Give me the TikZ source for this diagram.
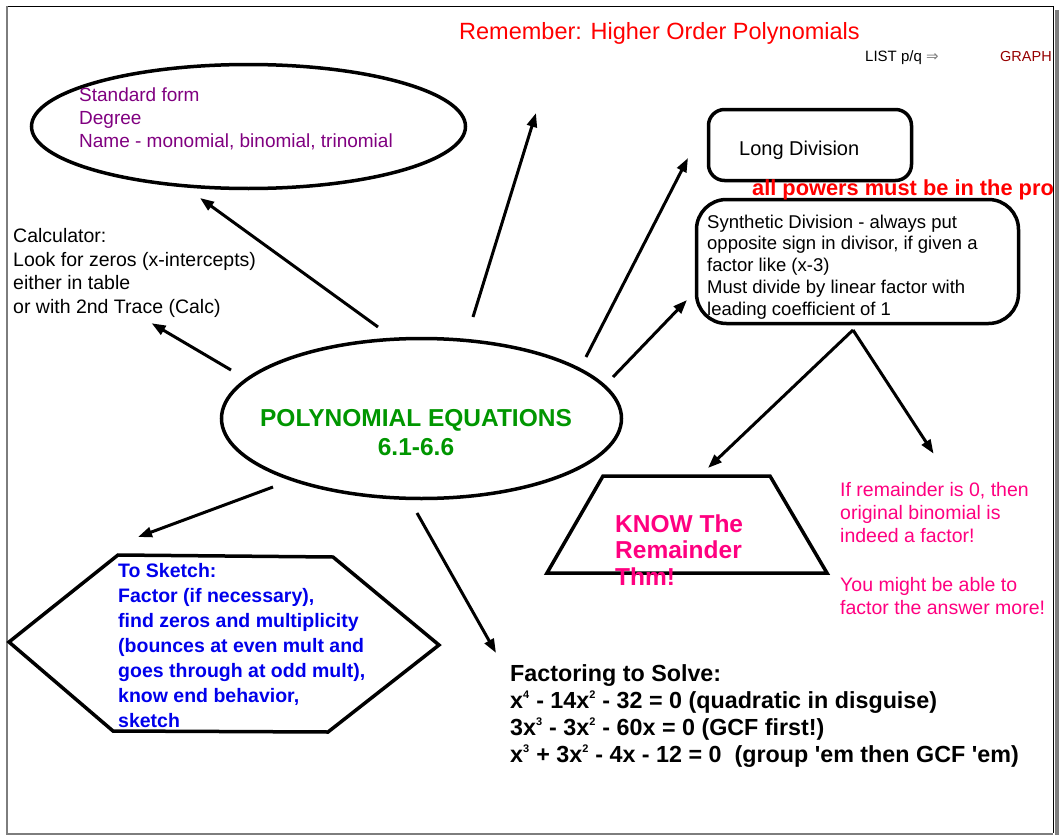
\documentclass[tikz,border=0pt]{standalone}
\usepackage{fontspec}
\setmainfont{Liberation Sans}
\newfontfamily\symbolfont{DejaVu Sans}
\usetikzlibrary{arrows.meta,shapes.geometric,calc,positioning}

\definecolor{titlered}{RGB}{255,0,0}
\definecolor{formpurple}{RGB}{128,0,128}
\definecolor{polygreen}{RGB}{0,150,0}
\definecolor{thmpink}{RGB}{255,0,128}
\definecolor{sketchblue}{RGB}{0,0,235}
\definecolor{graphred}{RGB}{150,0,0}
\definecolor{frameshadow}{RGB}{125,125,125}

\newcommand\fsz[2]{\fontsize{#1}{#2}\selectfont}

\tikzset{
  shape line/.style = {draw, line width=3.5pt, inner sep=0pt},
  bubble/.style     = {shape line, ellipse},
  roundbox/.style   = {shape line, rectangle},
  note/.style       = {inner sep=0pt, align=left, anchor=base west},
  link/.style       = {line width=3pt, -{Triangle[length=14pt,width=10pt]}}
}

\begin{document}
\begin{tikzpicture}[x=1pt,y=-1pt]
\useasboundingbox (0,0) rectangle (1061,835);

% page frame with its shadow
\draw[line width=1pt] (7,6) -- (1053,6) -- (1053,833);
\draw[frameshadow, line width=1.5pt] (7,6) -- (7,834) -- (1053,834);
\draw[frameshadow, line width=4pt] (1057,10) -- (1057,835);

% the shapes
\node[bubble, minimum width=434, minimum height=124] (form) at (248.5,126.5) {};
\node[bubble, minimum width=400, minimum height=160] (poly) at (421.5,418.5) {};
\node[roundbox, rounded corners=16pt, minimum width=203, minimum height=71] (longdiv) at (810,145) {};
\node[roundbox, rounded corners=30pt, minimum width=322, minimum height=124] (synth) at (857.5,261.5) {};
\coordinate (thmc) at (687,524.5);
\draw[line width=3.5pt] ($(thmc)+(-84,-48.5)$) -- ($(thmc)+(83,-48.5)$)
  -- ($(thmc)+(140,48.5)$) -- ($(thmc)+(-140,48.5)$) -- cycle;
\coordinate (hexc) at (224,643.5);
\draw[line width=3.5pt] ($(hexc)+(-215,-1.5)$) -- ($(hexc)+(-106,-88.5)$)
  -- ($(hexc)+(109,-86.5)$) -- ($(hexc)+(215,1.5)$)
  -- ($(hexc)+(104,88.5)$) -- ($(hexc)+(-111,87.5)$) -- cycle;

% the texts (a multi-line note sits on the base line of its last line)
\node[note, text=titlered, font=\fsz{23.5}{28}] (title) at (459,39.5) {Remember: Higher Order Polynomials};
\node[note, font=\fsz{15}{17}] (listpq) at (865,61) {LIST p/q {\symbolfont\textcolor{gray}{⇒}}};
\node[note, text=graphred, font=\fsz{14.5}{17}] (graph) at (1000,61) {GRAPH};

\node[note, text=formpurple, font=\fsz{19}{23}] (formtxt) at (79,147)
  {Standard form\\Degree\\Name - monomial, binomial, trinomial};
\node[note, font=\fsz{19.5}{23.5}] (calc) at (13,313)
  {Calculator:\\Look for zeros (x-intercepts)\\either in table\\or with 2nd Trace (Calc)};
\node[note, anchor=base, align=center, text=polygreen, font=\bfseries\fsz{24.5}{29}] (polytxt) at (416,455)
  {POLYNOMIAL EQUATIONS\\6.1-6.6};
\node[note, font=\fsz{20}{24}] (longtxt) at (739,155) {Long Division};
\begin{scope}
\clip (0,0) rectangle (1055,835);
\node[note, text=titlered, font=\bfseries\fsz{21.8}{25}] (powers) at (752,195) {all powers must be in the pro};
\end{scope}
\node[note, font=\fsz{18.5}{21.7}] (synthtxt) at (707,315)
  {Synthetic Division - always put\\opposite sign in divisor, if given a\\factor like (x-3)\\Must divide by linear factor with\\leading coefficient of 1};
\node[note, text=thmpink, font=\bfseries\fsz{24.5}{26.5}] (thmtxt) at (615,585) {KNOW The\\Remainder\\Thm!};
\node[note, text=thmpink, font=\fsz{19.5}{23}] (remtxt) at (840,614)
  {If remainder is 0, then\\original binomial is\\indeed a factor!\\[26pt]You might be able to\\factor the answer more!};
\node[note, text=sketchblue, font=\bfseries\fsz{19.5}{25}] (sketch) at (118,727)
  {To Sketch:\\Factor (if necessary),\\find zeros and multiplicity\\(bounces at even mult and\\goes through at odd mult),\\know end behavior,\\sketch};
\node[note, font=\bfseries\fsz{23.3}{27}] (factor) at (510,762)
  {Factoring to Solve:\\
   x\textsuperscript{\fsz{11}{11}4} - 14x\textsuperscript{\fsz{11}{11}2} - 32 = 0 (quadratic in disguise)\\
   3x\textsuperscript{\fsz{11}{11}3} - 3x\textsuperscript{\fsz{11}{11}2} - 60x = 0 (GCF first!)\\
   x\textsuperscript{\fsz{11}{11}3} + 3x\textsuperscript{\fsz{11}{11}2} - 4x - 12 = 0\ \ (group \textquotesingle em then GCF \textquotesingle em)};

% arrows out of the centre
\coordinate (titlearrow) at (536,113);
\draw[link] ($(poly)+(-43.5,-91.5)$) -- ($(form)+(-48.5,71.5)$);
\draw[link] ($(poly)+(-190.5,-48.5)$) -- ($(calc.south)+(17,6)$);
\draw[link] ($(poly)+(51.5,-101.5)$) -- (titlearrow);
\draw[link] ($(poly)+(164.5,-61.5)$) -- ($(longdiv)+(-122,13)$);
\draw[link] ($(poly)+(191.5,-41.5)$) -- ($(synth)+(-170.5,38.5)$);
\draw[link] ($(poly)+(-148.5,68.5)$) -- ($(hexc)+(-86,-106.5)$);
\draw[link] ($(poly)+(-4.5,94.5)$) -- ($(factor.north west)+(-14,-11)$);

% arrows out of synthetic division
\draw[link] ($(synth)+(-4.5,68.5)$) -- ($(thmc)+(21,-56.5)$);
\draw[link] ($(synth)+(-4.5,68.5)$) -- ($(remtxt.north)+(-9,-28)$);
\end{tikzpicture}
\end{document}
